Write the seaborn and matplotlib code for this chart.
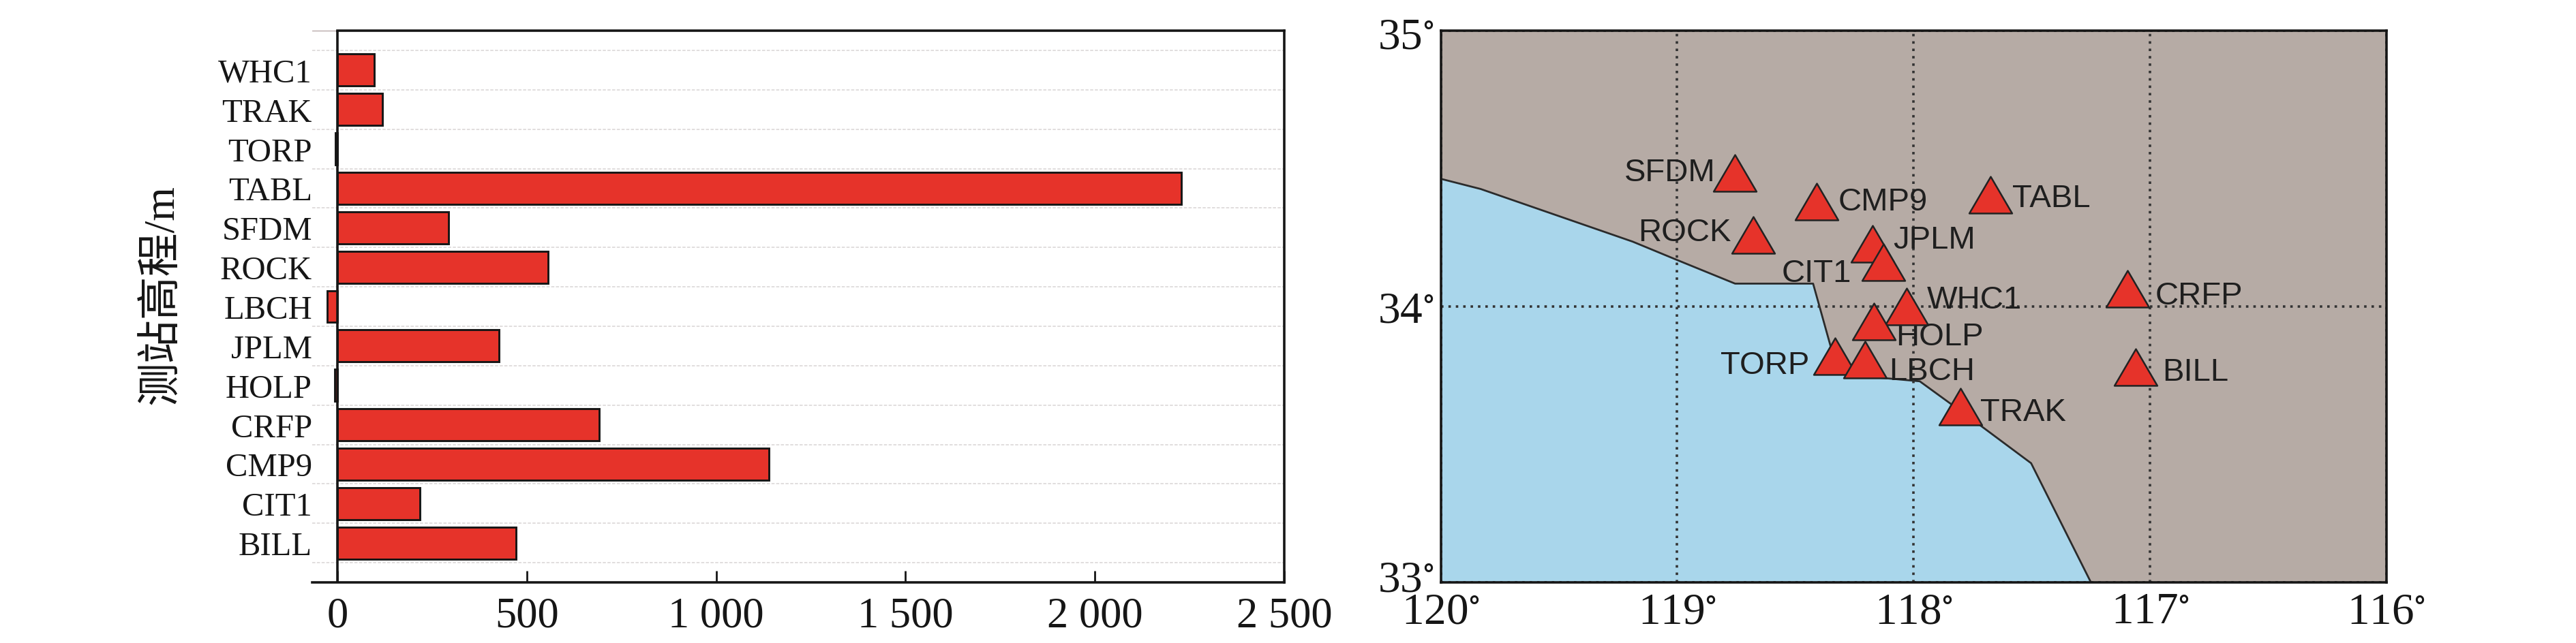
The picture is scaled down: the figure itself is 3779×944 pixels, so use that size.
import numpy as np
import pandas as pd
import matplotlib
matplotlib.use("Agg")
import matplotlib.pyplot as plt
from matplotlib.path import Path
from matplotlib.transforms import ScaledTranslation
import seaborn as sns

stations = ["WHC1", "TRAK", "TORP", "TABL", "SFDM", "ROCK", "LBCH", "JPLM", "HOLP", "CRFP", "CMP9", "CIT1", "BILL"]
heights = [96, 119, -6, 2229, 293, 555, -27, 427, -8, 690, 1139, 218, 471]
x_ticks = [0, 500, 1000, 1500, 2000, 2500]
x_tick_labels = ["0", "500", "1 000", "1 500", "2 000", "2 500"]
y_title = "测站高程/m"

lons = [118.029, 117.801, 118.331, 117.676, 118.755, 118.677, 118.204, 118.173, 118.167, 117.095, 118.41, 118.127, 117.062]
lats = [34.00, 33.638, 33.82, 34.406, 34.485, 34.259, 33.808, 34.228, 33.946, 34.063, 34.38, 34.161, 33.78]

coast_lon = [120.0, 119.831, 119.1875, 119.004, 118.755, 118.425, 118.351, 118.324, 117.974, 117.735, 117.503, 117.25]
coast_lat = [34.463, 34.426, 34.235, 34.17, 34.083, 34.083, 33.856, 33.756, 33.729, 33.58, 33.432, 33.0]
lon_ticks = [120, 119, 118, 117, 116]
lat_ticks = [33, 34, 35]

W, H = 3780, 945
RED, INK = "#E6332A", "#161616"
SEA, LAND = "#A9D6EB", "#B6ABA5"
LABEL_OFFSET_PX = {"SFDM": (-96, 1), "CMP9": (97, 0), "ROCK": (-101, 4), "JPLM": (90, 6), "CIT1": (-98, -16),
                   "WHC1": (99, 10), "HOLP": (96, -22), "TORP": (-103, -13), "LBCH": (98, -17), "TRAK": (92, -8),
                   "TABL": (90, -5), "CRFP": (105, -10), "BILL": (88, -7)}

sns.set_theme(style="white")
plt.rcParams["font.family"] = ["Liberation Serif", "Noto Sans CJK SC", "DejaVu Sans"]
plt.rcParams["axes.unicode_minus"] = False
plt.rcParams["mathtext.fontset"] = "stix"

fig = plt.figure(figsize=(W / 100, H / 100), dpi=100, facecolor="white")


def box(l, r, t=46, b=856):
    return [l / W, 1 - b / H, (r - l) / W, (b - t) / H]


# left panel
ax = fig.add_axes(box(458, 1884))
df = pd.DataFrame({"station": stations, "height": heights})
sns.barplot(data=df, y="station", x="height", order=stations, orient="h", color=RED, saturation=1,
            width=0.81, edgecolor=INK, linewidth=2.1, ax=ax, zorder=3)
ax.set_xlim(-67, 2500)
ax.set_ylim(13, -1)
ax.set_yticks(range(len(stations)), stations)
ax.set_yticks(np.arange(-0.5, 13), minor=True)
ax.grid(False)
ax.grid(which="minor", axis="y", color="#d9d5d5", linestyle=(0, (3, 1.5)), linewidth=1.1, zorder=0)
ax.set_xticks(x_ticks, x_tick_labels)
ax.tick_params(axis="x", direction="in", length=12, width=2, color=INK, pad=15, labelsize=45, labelcolor=INK, top=False, bottom=True)
ax.tick_params(axis="y", which="major", length=0, pad=0, labelsize=35, labelcolor=INK)
ax.tick_params(axis="y", which="minor", length=0)
ax.set_xlabel("")
ax.set_ylabel(y_title, fontsize=46, color=INK, fontweight="light")
ax.yaxis.set_label_coords(-0.133, 0.523)
for name in ["left", "right", "top", "bottom"]:
    ax.spines[name].set_visible(True)
    ax.spines[name].set_color(INK)
    ax.spines[name].set_linewidth(2.6)
ax.spines["left"].set_visible(False)
ax.spines["top"].set_bounds(0, 2500)
ax.axvline(0, color=INK, linewidth=2.6, zorder=4)
ax.axhline(-1, xmin=0, xmax=67 / 2567, color="#b9a9a9", linewidth=1, zorder=1, clip_on=False)

# right panel
mp = fig.add_axes(box(2113.5, 3501))
mp.set_facecolor(LAND)
mp.set_xlim(120, 116)
mp.set_ylim(33, 35)
mp.fill_between(coast_lon, 33, coast_lat, color=SEA, linewidth=0, zorder=1)
sns.lineplot(x=coast_lon, y=coast_lat, sort=False, estimator=None, color="#2b2b2b", linewidth=2.0, ax=mp, zorder=2)
mp.set_xticks(lon_ticks, [rf"{v}$^{{\circ}}$" for v in lon_ticks])
mp.set_yticks(lat_ticks, [rf"{v}$^{{\circ}}$" for v in lat_ticks])
mp.grid(True, color="#333333", linestyle=(0, (1, 2.0)), linewidth=2.6, zorder=3)
mp.set_axisbelow(False)
mp.tick_params(axis="both", length=0, labelsize=47, labelcolor=INK)
mp.tick_params(axis="x", pad=10)
mp.tick_params(axis="y", pad=7)
lat_shift = {33: 10, 34: 0, 35: -3}
for tick_label, v in zip(mp.get_yticklabels(), lat_ticks):
    tick_label.set_transform(tick_label.get_transform() + ScaledTranslation(0, lat_shift[v] / 100, fig.dpi_scale_trans))
for s in mp.spines.values():
    s.set_visible(True)
    s.set_color(INK)
    s.set_linewidth(2.6)
    s.set_zorder(6)

tri = Path([(-1, -0.857), (1, -0.857), (0, 0.857), (-1, -0.857)], closed=True)
sns.scatterplot(x=lons, y=lats, marker=tri, s=2050, color=RED, edgecolor="#222222", linewidth=1.8, ax=mp, zorder=5, clip_on=False)
for name, lo, la in zip(stations, lons, lats):
    dx, dy = LABEL_OFFSET_PX[name]
    mp.annotate(name, (lo, la), xytext=(dx * 0.72, dy * 0.72), textcoords="offset points", ha="center", va="center",
                family="Liberation Sans", fontsize=34, color="#1f1f1f", zorder=4)

fig.savefig("out.png", dpi=100, facecolor="white")
